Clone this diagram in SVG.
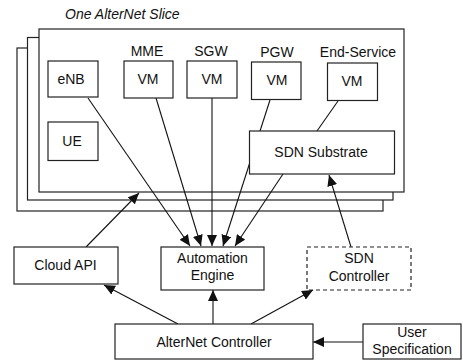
<svg xmlns="http://www.w3.org/2000/svg" width="463" height="362" viewBox="0 0 463 362">
  <style>
    .frame { fill: #ffffff; stroke: #222; stroke-width: 1.2; }
    .box { fill: #ffffff; stroke: #222; stroke-width: 1.2; }
    .dash { fill: #ffffff; stroke: #222; stroke-width: 1.2; stroke-dasharray: 4 3; }
    .lbl { font-family: "Liberation Sans", Arial, sans-serif; font-size: 14px; fill: #111; text-anchor: middle; }
    .title { font-family: "Liberation Sans", Arial, sans-serif; font-size: 14px; font-style: italic; fill: #111; }
    .edge { fill: none; stroke: #111; stroke-width: 1.1; }
    .arr { marker-end: url(#head); }
  </style>
  <defs>
    <marker id="head" markerUnits="userSpaceOnUse" markerWidth="12" markerHeight="10" refX="11" refY="5" orient="auto">
      <path d="M0,0 L11,5 L0,10 Z" fill="#111"/>
    </marker>
  </defs>

  <rect width="463" height="362" fill="#ffffff"/>

  <!-- stacked slice frames -->
  <g id="slice-stack">
    <rect class="frame" x="17" y="48" width="366" height="163"/>
    <rect class="frame" x="27.5" y="37.5" width="365.5" height="162.5"/>
    <rect class="frame" x="39" y="29" width="365" height="163"/>
    <text class="title" x="65" y="19">One AlterNet Slice</text>
  </g>

  <!-- connectors -->
  <g id="connectors">
    <line class="edge arr" x1="88" y1="98" x2="190" y2="246"/>
    <line class="edge arr" x1="156" y1="98" x2="201" y2="246"/>
    <line class="edge arr" x1="212" y1="98" x2="212" y2="246"/>
    <line class="edge arr" x1="270" y1="100" x2="223" y2="246"/>
    <line class="edge" x1="338" y1="101" x2="317" y2="131"/>
    <line class="edge arr" x1="283" y1="174" x2="235" y2="246"/>
    <line class="edge arr" x1="86" y1="247" x2="139" y2="193"/>
    <line class="edge arr" x1="351" y1="247" x2="329" y2="175"/>
    <line class="edge arr" x1="178" y1="324" x2="104" y2="285"/>
    <line class="edge arr" x1="213" y1="324" x2="213" y2="290"/>
    <line class="edge arr" x1="251" y1="324" x2="313" y2="290"/>
    <line class="edge arr" x1="363" y1="342" x2="313" y2="342"/>
  </g>

  <g id="enb">
    <rect class="box" x="48" y="61" width="50" height="36"/>
    <text class="lbl" x="71" y="84">eNB</text>
  </g>
  <g id="ue">
    <rect class="box" x="48" y="122" width="50" height="38.5"/>
    <text class="lbl" x="72" y="146">UE</text>
  </g>
  <g id="mme">
    <text class="lbl" x="147" y="56">MME</text>
    <rect class="box" x="124" y="61" width="49" height="37"/>
    <text class="lbl" x="148" y="84">VM</text>
  </g>
  <g id="sgw">
    <text class="lbl" x="211" y="56">SGW</text>
    <rect class="box" x="187" y="61" width="50" height="37"/>
    <text class="lbl" x="212" y="84">VM</text>
  </g>
  <g id="pgw">
    <text class="lbl" x="277" y="57">PGW</text>
    <rect class="box" x="251.5" y="62" width="49.5" height="37.5"/>
    <text class="lbl" x="277" y="85">VM</text>
  </g>
  <g id="end-service">
    <text class="lbl" x="358" y="57">End-Service</text>
    <rect class="box" x="327.5" y="63" width="50" height="37.5"/>
    <text class="lbl" x="352" y="86">VM</text>
  </g>
  <g id="sdn-substrate">
    <rect class="box" x="249.5" y="131" width="145" height="43"/>
    <text class="lbl" x="321" y="157">SDN Substrate</text>
  </g>
  <g id="cloud-api">
    <rect class="box" x="14" y="247" width="104" height="37"/>
    <text class="lbl" x="65.5" y="270">Cloud API</text>
  </g>
  <g id="automation-engine">
    <rect class="box" x="161" y="247" width="103" height="43"/>
    <text class="lbl" x="212.5" y="263">Automation</text>
    <text class="lbl" x="212.5" y="280">Engine</text>
  </g>
  <g id="sdn-controller">
    <rect class="dash" x="307" y="247" width="104" height="43"/>
    <text class="lbl" x="359" y="263">SDN</text>
    <text class="lbl" x="359" y="281">Controller</text>
  </g>
  <g id="alternet-controller">
    <rect class="box" x="115" y="324" width="198" height="35"/>
    <text class="lbl" x="214" y="347">AlterNet Controller</text>
  </g>
  <g id="user-specification">
    <rect class="box" x="363" y="324" width="98" height="35"/>
    <text class="lbl" x="412" y="337">User</text>
    <text class="lbl" x="412" y="354">Specification</text>
  </g>
</svg>
